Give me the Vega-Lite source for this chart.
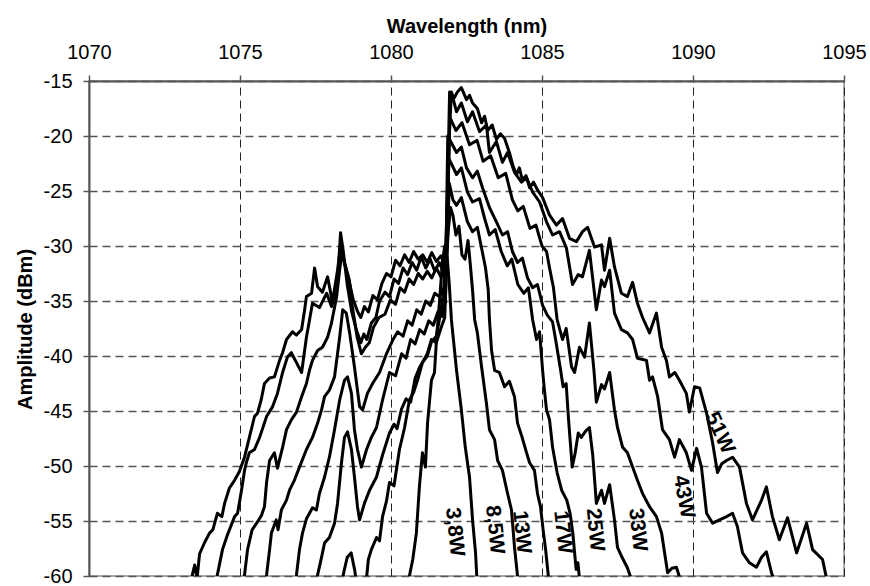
{
  "$schema": "https://vega.github.io/schema/vega-lite/v6.json",
  "width": 755,
  "height": 495,
  "autosize": {"type": "none"},
  "padding": {"left": 89, "top": 81, "right": 26, "bottom": 10},
  "background": "white",
  "config": {"view": {"stroke": "#8c8c8c", "strokeWidth": 1.5}, "font": "Liberation Sans"},
  "datasets": {
    "labels": [
      {"label": "3,8W", "x": 1082.10, "y": -56.0},
      {"label": "8,5W", "x": 1083.43, "y": -55.8},
      {"label": "13W", "x": 1084.32, "y": -56.0},
      {"label": "17W", "x": 1085.68, "y": -56.0},
      {"label": "25W", "x": 1086.75, "y": -55.8},
      {"label": "33W", "x": 1088.16, "y": -55.8},
      {"label": "43W", "x": 1089.69, "y": -52.8},
      {"label": "51W", "x": 1090.88, "y": -47.0}
    ],
    "curves": [
      {"s":"51W","x":1073.25,"y":-62},{"s":"51W","x":1073.43,"y":-59.8},{"s":"51W","x":1073.5,"y":-59.0},{"s":"51W","x":1073.58,"y":-60.2},{"s":"51W","x":1073.66,"y":-58.0},{"s":"51W","x":1073.82,"y":-57.0},{"s":"51W","x":1073.99,"y":-56.1},{"s":"51W","x":1074.1,"y":-55.8},{"s":"51W","x":1074.25,"y":-54.3},{"s":"51W","x":1074.4,"y":-54.6},{"s":"51W","x":1074.49,"y":-53.4},{"s":"51W","x":1074.65,"y":-52.0},{"s":"51W","x":1074.82,"y":-51.3},{"s":"51W","x":1074.98,"y":-50.5},{"s":"51W","x":1075.15,"y":-49.2},{"s":"51W","x":1075.31,"y":-47.4},{"s":"51W","x":1075.48,"y":-45.5},{"s":"51W","x":1075.58,"y":-45.2},{"s":"51W","x":1075.7,"y":-44.0},{"s":"51W","x":1075.81,"y":-42.5},{"s":"51W","x":1075.98,"y":-42.0},{"s":"51W","x":1076.14,"y":-41.9},{"s":"51W","x":1076.31,"y":-40.4},{"s":"51W","x":1076.41,"y":-39.7},{"s":"51W","x":1076.54,"y":-38.5},{"s":"51W","x":1076.74,"y":-37.8},{"s":"51W","x":1076.87,"y":-38.1},{"s":"51W","x":1077.04,"y":-37.6},{"s":"51W","x":1077.14,"y":-35.8},{"s":"51W","x":1077.2,"y":-34.6},{"s":"51W","x":1077.37,"y":-34.3},{"s":"51W","x":1077.47,"y":-32.0},{"s":"51W","x":1077.57,"y":-33.7},{"s":"51W","x":1077.73,"y":-34.2},{"s":"51W","x":1077.9,"y":-32.8},{"s":"51W","x":1078.06,"y":-35.1},{"s":"51W","x":1078.23,"y":-32.2},{"s":"51W","x":1078.33,"y":-30.0},{"s":"51W","x":1078.45,"y":-31.5},{"s":"51W","x":1078.6,"y":-33.0},{"s":"51W","x":1078.75,"y":-34.9},{"s":"51W","x":1078.9,"y":-36.0},{"s":"51W","x":1079.0,"y":-36.5},{"s":"51W","x":1079.12,"y":-35.5},{"s":"51W","x":1079.25,"y":-36.0},{"s":"51W","x":1079.4,"y":-34.5},{"s":"51W","x":1079.55,"y":-34.9},{"s":"51W","x":1079.7,"y":-33.4},{"s":"51W","x":1079.85,"y":-32.5},{"s":"51W","x":1080.0,"y":-32.8},{"s":"51W","x":1080.15,"y":-31.3},{"s":"51W","x":1080.3,"y":-31.8},{"s":"51W","x":1080.45,"y":-30.8},{"s":"51W","x":1080.6,"y":-31.5},{"s":"51W","x":1080.75,"y":-30.5},{"s":"51W","x":1080.9,"y":-31.2},{"s":"51W","x":1081.05,"y":-30.8},{"s":"51W","x":1081.2,"y":-31.5},{"s":"51W","x":1081.35,"y":-30.6},{"s":"51W","x":1081.5,"y":-31.4},{"s":"51W","x":1081.65,"y":-30.9},{"s":"51W","x":1081.8,"y":-31.8},{"s":"51W","x":1081.88,"y":-24.0},{"s":"51W","x":1081.94,"y":-16.0},{"s":"51W","x":1082.1,"y":-16.5},{"s":"51W","x":1082.2,"y":-16.0},{"s":"51W","x":1082.33,"y":-15.6},{"s":"51W","x":1082.5,"y":-16.7},{"s":"51W","x":1082.6,"y":-16.3},{"s":"51W","x":1082.7,"y":-17.0},{"s":"51W","x":1082.86,"y":-17.5},{"s":"51W","x":1083.0,"y":-18.8},{"s":"51W","x":1083.1,"y":-18.2},{"s":"51W","x":1083.2,"y":-19.5},{"s":"51W","x":1083.35,"y":-19.0},{"s":"51W","x":1083.49,"y":-20.3},{"s":"51W","x":1083.62,"y":-19.8},{"s":"51W","x":1083.76,"y":-20.2},{"s":"51W","x":1083.92,"y":-21.5},{"s":"51W","x":1084.05,"y":-22.8},{"s":"51W","x":1084.16,"y":-23.5},{"s":"51W","x":1084.25,"y":-22.9},{"s":"51W","x":1084.35,"y":-24.0},{"s":"51W","x":1084.47,"y":-23.6},{"s":"51W","x":1084.59,"y":-24.7},{"s":"51W","x":1084.72,"y":-24.2},{"s":"51W","x":1084.85,"y":-24.9},{"s":"51W","x":1085.02,"y":-25.6},{"s":"51W","x":1085.25,"y":-27.2},{"s":"51W","x":1085.48,"y":-28.1},{"s":"51W","x":1085.68,"y":-27.5},{"s":"51W","x":1085.91,"y":-29.3},{"s":"51W","x":1086.14,"y":-29.6},{"s":"51W","x":1086.34,"y":-28.7},{"s":"51W","x":1086.51,"y":-28.3},{"s":"51W","x":1086.74,"y":-30.1},{"s":"51W","x":1086.97,"y":-29.9},{"s":"51W","x":1087.07,"y":-32.2},{"s":"51W","x":1087.24,"y":-29.3},{"s":"51W","x":1087.4,"y":-31.9},{"s":"51W","x":1087.63,"y":-34.3},{"s":"51W","x":1087.83,"y":-34.6},{"s":"51W","x":1088.0,"y":-33.3},{"s":"51W","x":1088.16,"y":-35.2},{"s":"51W","x":1088.33,"y":-36.5},{"s":"51W","x":1088.56,"y":-37.9},{"s":"51W","x":1088.79,"y":-36.1},{"s":"51W","x":1088.96,"y":-39.2},{"s":"51W","x":1089.12,"y":-40.4},{"s":"51W","x":1089.22,"y":-41.9},{"s":"51W","x":1089.4,"y":-41.5},{"s":"51W","x":1089.55,"y":-42.2},{"s":"51W","x":1089.78,"y":-43.4},{"s":"51W","x":1089.88,"y":-45.1},{"s":"51W","x":1090.05,"y":-42.8},{"s":"51W","x":1090.22,"y":-42.9},{"s":"51W","x":1090.45,"y":-45.2},{"s":"51W","x":1090.65,"y":-47.9},{"s":"51W","x":1090.81,"y":-50.6},{"s":"51W","x":1090.95,"y":-49.8},{"s":"51W","x":1091.11,"y":-49.5},{"s":"51W","x":1091.31,"y":-49.2},{"s":"51W","x":1091.54,"y":-50.1},{"s":"51W","x":1091.77,"y":-53.4},{"s":"51W","x":1091.97,"y":-54.9},{"s":"51W","x":1092.27,"y":-53.1},{"s":"51W","x":1092.43,"y":-51.9},{"s":"51W","x":1092.63,"y":-54.6},{"s":"51W","x":1092.86,"y":-56.7},{"s":"51W","x":1093.13,"y":-54.7},{"s":"51W","x":1093.43,"y":-57.9},{"s":"51W","x":1093.76,"y":-55.2},{"s":"51W","x":1093.96,"y":-57.6},{"s":"51W","x":1094.29,"y":-58.5},{"s":"51W","x":1094.42,"y":-60.2},{"s":"51W","x":1094.5,"y":-62},

      {"s":"43W","x":1074.1,"y":-62},{"s":"43W","x":1074.25,"y":-59.9},{"s":"43W","x":1074.42,"y":-57.6},{"s":"43W","x":1074.58,"y":-56.3},{"s":"43W","x":1074.82,"y":-54.6},{"s":"43W","x":1074.92,"y":-54.3},{"s":"43W","x":1075.05,"y":-52.2},{"s":"43W","x":1075.15,"y":-50.4},{"s":"43W","x":1075.21,"y":-49.7},{"s":"43W","x":1075.31,"y":-48.8},{"s":"43W","x":1075.48,"y":-48.5},{"s":"43W","x":1075.65,"y":-47.4},{"s":"43W","x":1075.88,"y":-45.5},{"s":"43W","x":1076.08,"y":-44.6},{"s":"43W","x":1076.24,"y":-43.4},{"s":"43W","x":1076.41,"y":-41.5},{"s":"43W","x":1076.57,"y":-40.1},{"s":"43W","x":1076.7,"y":-39.7},{"s":"43W","x":1076.87,"y":-40.6},{"s":"43W","x":1077.04,"y":-41.5},{"s":"43W","x":1077.2,"y":-38.3},{"s":"43W","x":1077.4,"y":-35.2},{"s":"43W","x":1077.63,"y":-35.6},{"s":"43W","x":1077.87,"y":-34.3},{"s":"43W","x":1078.03,"y":-35.5},{"s":"43W","x":1078.18,"y":-34.3},{"s":"43W","x":1078.26,"y":-31.9},{"s":"43W","x":1078.33,"y":-28.8},{"s":"43W","x":1078.42,"y":-30.5},{"s":"43W","x":1078.55,"y":-33.5},{"s":"43W","x":1078.7,"y":-36.0},{"s":"43W","x":1078.85,"y":-37.6},{"s":"43W","x":1079.0,"y":-38.8},{"s":"43W","x":1079.1,"y":-38.0},{"s":"43W","x":1079.2,"y":-38.5},{"s":"43W","x":1079.35,"y":-37.0},{"s":"43W","x":1079.5,"y":-36.5},{"s":"43W","x":1079.62,"y":-35.0},{"s":"43W","x":1079.8,"y":-34.2},{"s":"43W","x":1079.95,"y":-34.6},{"s":"43W","x":1080.1,"y":-33.0},{"s":"43W","x":1080.25,"y":-33.4},{"s":"43W","x":1080.4,"y":-32.0},{"s":"43W","x":1080.55,"y":-32.6},{"s":"43W","x":1080.7,"y":-31.5},{"s":"43W","x":1080.85,"y":-32.2},{"s":"43W","x":1081.0,"y":-31.0},{"s":"43W","x":1081.15,"y":-32.0},{"s":"43W","x":1081.3,"y":-31.2},{"s":"43W","x":1081.45,"y":-32.3},{"s":"43W","x":1081.6,"y":-31.5},{"s":"43W","x":1081.75,"y":-32.5},{"s":"43W","x":1081.85,"y":-30.0},{"s":"43W","x":1081.93,"y":-20.0},{"s":"43W","x":1082.0,"y":-16.0},{"s":"43W","x":1082.17,"y":-17.8},{"s":"43W","x":1082.33,"y":-17.0},{"s":"43W","x":1082.53,"y":-18.7},{"s":"43W","x":1082.7,"y":-17.8},{"s":"43W","x":1082.93,"y":-19.6},{"s":"43W","x":1083.16,"y":-19.0},{"s":"43W","x":1083.26,"y":-21.5},{"s":"43W","x":1083.49,"y":-20.5},{"s":"43W","x":1083.69,"y":-22.4},{"s":"43W","x":1083.86,"y":-21.5},{"s":"43W","x":1084.09,"y":-23.3},{"s":"43W","x":1084.32,"y":-24.2},{"s":"43W","x":1084.49,"y":-23.8},{"s":"43W","x":1084.69,"y":-25.1},{"s":"43W","x":1084.92,"y":-26.0},{"s":"43W","x":1085.15,"y":-27.8},{"s":"43W","x":1085.35,"y":-29.0},{"s":"43W","x":1085.58,"y":-28.7},{"s":"43W","x":1085.81,"y":-30.2},{"s":"43W","x":1086.01,"y":-33.5},{"s":"43W","x":1086.2,"y":-32.6},{"s":"43W","x":1086.34,"y":-32.8},{"s":"43W","x":1086.57,"y":-30.4},{"s":"43W","x":1086.8,"y":-35.8},{"s":"43W","x":1086.97,"y":-33.1},{"s":"43W","x":1087.07,"y":-33.7},{"s":"43W","x":1087.24,"y":-32.2},{"s":"43W","x":1087.4,"y":-36.1},{"s":"43W","x":1087.63,"y":-37.6},{"s":"43W","x":1087.83,"y":-37.9},{"s":"43W","x":1088.0,"y":-38.5},{"s":"43W","x":1088.16,"y":-40.2},{"s":"43W","x":1088.46,"y":-40.4},{"s":"43W","x":1088.56,"y":-42.2},{"s":"43W","x":1088.66,"y":-41.9},{"s":"43W","x":1088.83,"y":-43.7},{"s":"43W","x":1088.99,"y":-46.7},{"s":"43W","x":1089.22,"y":-47.6},{"s":"43W","x":1089.39,"y":-49.2},{"s":"43W","x":1089.55,"y":-47.6},{"s":"43W","x":1089.78,"y":-48.8},{"s":"43W","x":1089.95,"y":-50.4},{"s":"43W","x":1090.12,"y":-48.4},{"s":"43W","x":1090.28,"y":-50.1},{"s":"43W","x":1090.45,"y":-54.3},{"s":"43W","x":1090.65,"y":-55.2},{"s":"43W","x":1090.88,"y":-54.9},{"s":"43W","x":1091.11,"y":-54.6},{"s":"43W","x":1091.31,"y":-54.3},{"s":"43W","x":1091.47,"y":-55.5},{"s":"43W","x":1091.64,"y":-57.9},{"s":"43W","x":1091.87,"y":-58.8},{"s":"43W","x":1092.1,"y":-59.2},{"s":"43W","x":1092.27,"y":-58.3},{"s":"43W","x":1092.43,"y":-57.8},{"s":"43W","x":1092.6,"y":-59.7},{"s":"43W","x":1092.7,"y":-60.5},{"s":"43W","x":1092.8,"y":-62},

      {"s":"33W","x":1074.95,"y":-62},{"s":"33W","x":1075.15,"y":-59.9},{"s":"33W","x":1075.25,"y":-57.6},{"s":"33W","x":1075.4,"y":-55.8},{"s":"33W","x":1075.55,"y":-55.2},{"s":"33W","x":1075.71,"y":-54.5},{"s":"33W","x":1075.81,"y":-53.7},{"s":"33W","x":1075.88,"y":-51.5},{"s":"33W","x":1075.98,"y":-49.5},{"s":"33W","x":1076.14,"y":-48.8},{"s":"33W","x":1076.24,"y":-50.2},{"s":"33W","x":1076.41,"y":-48.3},{"s":"33W","x":1076.54,"y":-46.7},{"s":"33W","x":1076.7,"y":-45.8},{"s":"33W","x":1076.87,"y":-45.1},{"s":"33W","x":1077.04,"y":-43.7},{"s":"33W","x":1077.2,"y":-42.5},{"s":"33W","x":1077.3,"y":-41.3},{"s":"33W","x":1077.4,"y":-40.4},{"s":"33W","x":1077.57,"y":-39.5},{"s":"33W","x":1077.73,"y":-39.2},{"s":"33W","x":1077.9,"y":-38.3},{"s":"33W","x":1078.03,"y":-37.0},{"s":"33W","x":1078.2,"y":-34.6},{"s":"33W","x":1078.3,"y":-32.2},{"s":"33W","x":1078.38,"y":-30.5},{"s":"33W","x":1078.46,"y":-31.5},{"s":"33W","x":1078.62,"y":-33.1},{"s":"33W","x":1078.72,"y":-35.5},{"s":"33W","x":1078.88,"y":-38.3},{"s":"33W","x":1079.02,"y":-39.8},{"s":"33W","x":1079.15,"y":-39.2},{"s":"33W","x":1079.28,"y":-38.8},{"s":"33W","x":1079.42,"y":-37.4},{"s":"33W","x":1079.6,"y":-36.5},{"s":"33W","x":1079.8,"y":-36.2},{"s":"33W","x":1079.98,"y":-34.9},{"s":"33W","x":1080.15,"y":-35.3},{"s":"33W","x":1080.3,"y":-33.8},{"s":"33W","x":1080.45,"y":-34.2},{"s":"33W","x":1080.6,"y":-33.0},{"s":"33W","x":1080.75,"y":-33.5},{"s":"33W","x":1080.9,"y":-32.5},{"s":"33W","x":1081.05,"y":-33.0},{"s":"33W","x":1081.2,"y":-32.3},{"s":"33W","x":1081.35,"y":-32.9},{"s":"33W","x":1081.5,"y":-32.0},{"s":"33W","x":1081.65,"y":-32.8},{"s":"33W","x":1081.8,"y":-32.4},{"s":"33W","x":1081.88,"y":-26.0},{"s":"33W","x":1081.95,"y":-18.3},{"s":"33W","x":1082.15,"y":-19.5},{"s":"33W","x":1082.35,"y":-18.8},{"s":"33W","x":1082.6,"y":-20.8},{"s":"33W","x":1082.85,"y":-20.4},{"s":"33W","x":1083.05,"y":-22.3},{"s":"33W","x":1083.3,"y":-21.8},{"s":"33W","x":1083.55,"y":-23.8},{"s":"33W","x":1083.8,"y":-23.4},{"s":"33W","x":1084.02,"y":-25.8},{"s":"33W","x":1084.2,"y":-26.8},{"s":"33W","x":1084.38,"y":-26.4},{"s":"33W","x":1084.6,"y":-28.4},{"s":"33W","x":1084.8,"y":-28.1},{"s":"33W","x":1085.0,"y":-30.0},{"s":"33W","x":1085.15,"y":-30.5},{"s":"33W","x":1085.25,"y":-32.0},{"s":"33W","x":1085.38,"y":-33.8},{"s":"33W","x":1085.5,"y":-36.7},{"s":"33W","x":1085.68,"y":-38.5},{"s":"33W","x":1085.8,"y":-37.5},{"s":"33W","x":1085.98,"y":-41.0},{"s":"33W","x":1086.08,"y":-41.5},{"s":"33W","x":1086.24,"y":-39.2},{"s":"33W","x":1086.41,"y":-40.1},{"s":"33W","x":1086.57,"y":-37.0},{"s":"33W","x":1086.72,"y":-41.3},{"s":"33W","x":1086.8,"y":-44.2},{"s":"33W","x":1086.97,"y":-42.6},{"s":"33W","x":1087.07,"y":-43.0},{"s":"33W","x":1087.24,"y":-41.5},{"s":"33W","x":1087.4,"y":-44.9},{"s":"33W","x":1087.5,"y":-46.5},{"s":"33W","x":1087.67,"y":-48.3},{"s":"33W","x":1087.83,"y":-48.8},{"s":"33W","x":1088.0,"y":-50.1},{"s":"33W","x":1088.16,"y":-51.3},{"s":"33W","x":1088.33,"y":-52.5},{"s":"33W","x":1088.56,"y":-53.7},{"s":"33W","x":1088.79,"y":-54.6},{"s":"33W","x":1088.96,"y":-56.1},{"s":"33W","x":1089.06,"y":-57.9},{"s":"33W","x":1089.16,"y":-59.7},{"s":"33W","x":1089.3,"y":-59.3},{"s":"33W","x":1089.45,"y":-59.2},{"s":"33W","x":1089.6,"y":-60.5},{"s":"33W","x":1089.7,"y":-62},

      {"s":"25W","x":1075.75,"y":-62},{"s":"25W","x":1075.88,"y":-59.9},{"s":"25W","x":1075.98,"y":-57.6},{"s":"25W","x":1076.04,"y":-56.1},{"s":"25W","x":1076.2,"y":-54.9},{"s":"25W","x":1076.26,"y":-55.8},{"s":"25W","x":1076.37,"y":-54.0},{"s":"25W","x":1076.54,"y":-53.1},{"s":"25W","x":1076.64,"y":-52.2},{"s":"25W","x":1076.8,"y":-51.3},{"s":"25W","x":1076.97,"y":-50.1},{"s":"25W","x":1077.2,"y":-48.5},{"s":"25W","x":1077.4,"y":-47.4},{"s":"25W","x":1077.57,"y":-46.1},{"s":"25W","x":1077.7,"y":-44.9},{"s":"25W","x":1077.8,"y":-43.7},{"s":"25W","x":1077.96,"y":-43.1},{"s":"25W","x":1078.13,"y":-41.9},{"s":"25W","x":1078.3,"y":-38.3},{"s":"25W","x":1078.4,"y":-35.8},{"s":"25W","x":1078.52,"y":-36.1},{"s":"25W","x":1078.63,"y":-37.9},{"s":"25W","x":1078.79,"y":-41.0},{"s":"25W","x":1078.96,"y":-44.6},{"s":"25W","x":1079.06,"y":-44.9},{"s":"25W","x":1079.22,"y":-43.4},{"s":"25W","x":1079.39,"y":-42.5},{"s":"25W","x":1079.62,"y":-41.5},{"s":"25W","x":1079.85,"y":-39.8},{"s":"25W","x":1080.05,"y":-38.6},{"s":"25W","x":1080.22,"y":-37.8},{"s":"25W","x":1080.4,"y":-38.2},{"s":"25W","x":1080.55,"y":-36.8},{"s":"25W","x":1080.7,"y":-37.2},{"s":"25W","x":1080.85,"y":-35.8},{"s":"25W","x":1081.0,"y":-36.2},{"s":"25W","x":1081.15,"y":-35.0},{"s":"25W","x":1081.3,"y":-35.4},{"s":"25W","x":1081.45,"y":-34.3},{"s":"25W","x":1081.6,"y":-34.6},{"s":"25W","x":1081.75,"y":-33.8},{"s":"25W","x":1081.83,"y":-29.0},{"s":"25W","x":1081.88,"y":-20.0},{"s":"25W","x":1082.17,"y":-21.5},{"s":"25W","x":1082.33,"y":-21.0},{"s":"25W","x":1082.5,"y":-22.9},{"s":"25W","x":1082.7,"y":-23.8},{"s":"25W","x":1082.86,"y":-23.2},{"s":"25W","x":1083.03,"y":-24.7},{"s":"25W","x":1083.26,"y":-26.5},{"s":"25W","x":1083.49,"y":-27.8},{"s":"25W","x":1083.69,"y":-29.0},{"s":"25W","x":1083.86,"y":-28.7},{"s":"25W","x":1084.02,"y":-30.5},{"s":"25W","x":1084.19,"y":-31.5},{"s":"25W","x":1084.35,"y":-31.1},{"s":"25W","x":1084.52,"y":-32.9},{"s":"25W","x":1084.69,"y":-33.8},{"s":"25W","x":1084.85,"y":-33.5},{"s":"25W","x":1085.02,"y":-35.4},{"s":"25W","x":1085.18,"y":-36.3},{"s":"25W","x":1085.35,"y":-36.9},{"s":"25W","x":1085.45,"y":-38.5},{"s":"25W","x":1085.6,"y":-41.0},{"s":"25W","x":1085.7,"y":-42.8},{"s":"25W","x":1085.8,"y":-42.5},{"s":"25W","x":1085.88,"y":-45.8},{"s":"25W","x":1085.95,"y":-48.3},{"s":"25W","x":1086.0,"y":-50.1},{"s":"25W","x":1086.1,"y":-48.8},{"s":"25W","x":1086.2,"y":-47.0},{"s":"25W","x":1086.3,"y":-47.4},{"s":"25W","x":1086.45,"y":-46.8},{"s":"25W","x":1086.57,"y":-46.5},{"s":"25W","x":1086.68,"y":-49.0},{"s":"25W","x":1086.8,"y":-53.4},{"s":"25W","x":1086.97,"y":-52.2},{"s":"25W","x":1087.07,"y":-53.4},{"s":"25W","x":1087.24,"y":-51.7},{"s":"25W","x":1087.4,"y":-54.9},{"s":"25W","x":1087.5,"y":-57.4},{"s":"25W","x":1087.65,"y":-58.3},{"s":"25W","x":1087.82,"y":-59.2},{"s":"25W","x":1087.96,"y":-60.3},{"s":"25W","x":1088.1,"y":-62},

      {"s":"17W","x":1076.7,"y":-62},{"s":"17W","x":1076.87,"y":-59.9},{"s":"17W","x":1076.97,"y":-57.6},{"s":"17W","x":1077.07,"y":-56.1},{"s":"17W","x":1077.2,"y":-54.8},{"s":"17W","x":1077.3,"y":-54.3},{"s":"17W","x":1077.4,"y":-53.8},{"s":"17W","x":1077.53,"y":-54.0},{"s":"17W","x":1077.63,"y":-52.5},{"s":"17W","x":1077.8,"y":-51.0},{"s":"17W","x":1077.96,"y":-49.2},{"s":"17W","x":1078.13,"y":-46.7},{"s":"17W","x":1078.3,"y":-44.0},{"s":"17W","x":1078.46,"y":-42.2},{"s":"17W","x":1078.56,"y":-41.9},{"s":"17W","x":1078.69,"y":-43.4},{"s":"17W","x":1078.79,"y":-46.7},{"s":"17W","x":1078.89,"y":-48.5},{"s":"17W","x":1079.02,"y":-50.1},{"s":"17W","x":1079.19,"y":-48.5},{"s":"17W","x":1079.35,"y":-47.4},{"s":"17W","x":1079.52,"y":-46.5},{"s":"17W","x":1079.72,"y":-44.0},{"s":"17W","x":1079.95,"y":-41.5},{"s":"17W","x":1080.15,"y":-41.8},{"s":"17W","x":1080.35,"y":-39.8},{"s":"17W","x":1080.5,"y":-40.2},{"s":"17W","x":1080.65,"y":-38.5},{"s":"17W","x":1080.8,"y":-38.9},{"s":"17W","x":1080.95,"y":-37.6},{"s":"17W","x":1081.1,"y":-38.0},{"s":"17W","x":1081.25,"y":-36.8},{"s":"17W","x":1081.4,"y":-37.2},{"s":"17W","x":1081.55,"y":-36.0},{"s":"17W","x":1081.7,"y":-36.4},{"s":"17W","x":1081.8,"y":-35.0},{"s":"17W","x":1081.86,"y":-29.0},{"s":"17W","x":1081.9,"y":-22.0},{"s":"17W","x":1082.05,"y":-22.8},{"s":"17W","x":1082.17,"y":-23.5},{"s":"17W","x":1082.33,"y":-22.9},{"s":"17W","x":1082.53,"y":-25.1},{"s":"17W","x":1082.7,"y":-26.0},{"s":"17W","x":1082.93,"y":-25.7},{"s":"17W","x":1083.1,"y":-27.5},{"s":"17W","x":1083.26,"y":-29.0},{"s":"17W","x":1083.45,"y":-28.5},{"s":"17W","x":1083.65,"y":-30.5},{"s":"17W","x":1083.85,"y":-31.8},{"s":"17W","x":1084.0,"y":-31.2},{"s":"17W","x":1084.2,"y":-33.5},{"s":"17W","x":1084.4,"y":-34.3},{"s":"17W","x":1084.55,"y":-33.8},{"s":"17W","x":1084.69,"y":-36.7},{"s":"17W","x":1084.82,"y":-38.5},{"s":"17W","x":1084.92,"y":-37.8},{"s":"17W","x":1085.02,"y":-41.3},{"s":"17W","x":1085.08,"y":-43.1},{"s":"17W","x":1085.15,"y":-44.9},{"s":"17W","x":1085.25,"y":-45.8},{"s":"17W","x":1085.35,"y":-48.3},{"s":"17W","x":1085.5,"y":-50.6},{"s":"17W","x":1085.65,"y":-52.2},{"s":"17W","x":1085.82,"y":-53.1},{"s":"17W","x":1085.93,"y":-54.3},{"s":"17W","x":1086.02,"y":-56.1},{"s":"17W","x":1086.08,"y":-57.9},{"s":"17W","x":1086.13,"y":-59.4},{"s":"17W","x":1086.19,"y":-58.8},{"s":"17W","x":1086.25,"y":-60.5},{"s":"17W","x":1086.32,"y":-62},

      {"s":"13W","x":1077.4,"y":-62},{"s":"13W","x":1077.57,"y":-59.9},{"s":"13W","x":1077.7,"y":-58.3},{"s":"13W","x":1077.8,"y":-57.0},{"s":"13W","x":1077.96,"y":-56.5},{"s":"13W","x":1078.13,"y":-55.2},{"s":"13W","x":1078.23,"y":-53.4},{"s":"13W","x":1078.36,"y":-49.7},{"s":"13W","x":1078.46,"y":-47.4},{"s":"13W","x":1078.56,"y":-46.9},{"s":"13W","x":1078.69,"y":-48.5},{"s":"13W","x":1078.79,"y":-51.0},{"s":"13W","x":1078.89,"y":-53.7},{"s":"13W","x":1078.96,"y":-54.9},{"s":"13W","x":1079.12,"y":-53.4},{"s":"13W","x":1079.29,"y":-52.2},{"s":"13W","x":1079.52,"y":-51.0},{"s":"13W","x":1079.72,"y":-49.0},{"s":"13W","x":1079.95,"y":-47.0},{"s":"13W","x":1080.1,"y":-46.2},{"s":"13W","x":1080.2,"y":-46.6},{"s":"13W","x":1080.35,"y":-44.8},{"s":"13W","x":1080.5,"y":-43.9},{"s":"13W","x":1080.65,"y":-44.2},{"s":"13W","x":1080.8,"y":-42.0},{"s":"13W","x":1080.95,"y":-41.0},{"s":"13W","x":1081.04,"y":-40.6},{"s":"13W","x":1081.2,"y":-39.8},{"s":"13W","x":1081.34,"y":-38.5},{"s":"13W","x":1081.5,"y":-38.8},{"s":"13W","x":1081.65,"y":-37.5},{"s":"13W","x":1081.78,"y":-36.5},{"s":"13W","x":1081.86,"y":-30.0},{"s":"13W","x":1081.93,"y":-24.3},{"s":"13W","x":1082.05,"y":-25.8},{"s":"13W","x":1082.17,"y":-26.3},{"s":"13W","x":1082.33,"y":-25.6},{"s":"13W","x":1082.53,"y":-27.8},{"s":"13W","x":1082.7,"y":-28.7},{"s":"13W","x":1082.86,"y":-28.3},{"s":"13W","x":1083.0,"y":-30.2},{"s":"13W","x":1083.13,"y":-32.0},{"s":"13W","x":1083.22,"y":-34.0},{"s":"13W","x":1083.26,"y":-36.7},{"s":"13W","x":1083.33,"y":-39.5},{"s":"13W","x":1083.43,"y":-41.3},{"s":"13W","x":1083.59,"y":-41.5},{"s":"13W","x":1083.76,"y":-42.8},{"s":"13W","x":1083.92,"y":-42.3},{"s":"13W","x":1084.09,"y":-43.7},{"s":"13W","x":1084.19,"y":-46.1},{"s":"13W","x":1084.32,"y":-47.2},{"s":"13W","x":1084.49,"y":-48.8},{"s":"13W","x":1084.59,"y":-49.7},{"s":"13W","x":1084.75,"y":-50.4},{"s":"13W","x":1084.85,"y":-52.5},{"s":"13W","x":1084.95,"y":-53.7},{"s":"13W","x":1085.05,"y":-56.1},{"s":"13W","x":1085.12,"y":-57.6},{"s":"13W","x":1085.21,"y":-60.0},{"s":"13W","x":1085.3,"y":-62},

      {"s":"8,5W","x":1078.3,"y":-61.5},{"s":"8,5W","x":1078.45,"y":-59.5},{"s":"8,5W","x":1078.55,"y":-58.3},{"s":"8,5W","x":1078.68,"y":-57.9},{"s":"8,5W","x":1078.8,"y":-59.5},{"s":"8,5W","x":1078.9,"y":-61.5},{"s":"8,5W","x":1079.05,"y":-63},{"s":"8,5W","x":1079.19,"y":-60.2},{"s":"8,5W","x":1079.25,"y":-58.5},{"s":"8,5W","x":1079.35,"y":-57.6},{"s":"8,5W","x":1079.52,"y":-56.5},{"s":"8,5W","x":1079.62,"y":-56.8},{"s":"8,5W","x":1079.72,"y":-54.6},{"s":"8,5W","x":1079.85,"y":-53.2},{"s":"8,5W","x":1079.95,"y":-51.5},{"s":"8,5W","x":1080.1,"y":-51.8},{"s":"8,5W","x":1080.28,"y":-48.5},{"s":"8,5W","x":1080.45,"y":-46.5},{"s":"8,5W","x":1080.61,"y":-44.0},{"s":"8,5W","x":1080.75,"y":-43.3},{"s":"8,5W","x":1080.9,"y":-42.0},{"s":"8,5W","x":1081.04,"y":-40.6},{"s":"8,5W","x":1081.2,"y":-40.0},{"s":"8,5W","x":1081.34,"y":-38.7},{"s":"8,5W","x":1081.5,"y":-38.2},{"s":"8,5W","x":1081.65,"y":-36.0},{"s":"8,5W","x":1081.8,"y":-33.0},{"s":"8,5W","x":1081.9,"y":-28.5},{"s":"8,5W","x":1081.97,"y":-26.5},{"s":"8,5W","x":1082.05,"y":-27.2},{"s":"8,5W","x":1082.15,"y":-29.0},{"s":"8,5W","x":1082.25,"y":-28.2},{"s":"8,5W","x":1082.35,"y":-30.8},{"s":"8,5W","x":1082.45,"y":-31.2},{"s":"8,5W","x":1082.55,"y":-29.5},{"s":"8,5W","x":1082.62,"y":-31.5},{"s":"8,5W","x":1082.7,"y":-34.0},{"s":"8,5W","x":1082.77,"y":-36.7},{"s":"8,5W","x":1082.86,"y":-37.9},{"s":"8,5W","x":1083.0,"y":-41.0},{"s":"8,5W","x":1083.16,"y":-44.3},{"s":"8,5W","x":1083.26,"y":-46.7},{"s":"8,5W","x":1083.43,"y":-47.6},{"s":"8,5W","x":1083.53,"y":-49.5},{"s":"8,5W","x":1083.69,"y":-50.4},{"s":"8,5W","x":1083.86,"y":-52.5},{"s":"8,5W","x":1083.99,"y":-54.0},{"s":"8,5W","x":1084.09,"y":-57.4},{"s":"8,5W","x":1084.19,"y":-60.0},{"s":"8,5W","x":1084.3,"y":-62},

      {"s":"3,8W","x":1080.5,"y":-62},{"s":"3,8W","x":1080.61,"y":-60.0},{"s":"3,8W","x":1080.72,"y":-58.5},{"s":"3,8W","x":1080.84,"y":-56.1},{"s":"3,8W","x":1080.94,"y":-51.9},{"s":"3,8W","x":1081.04,"y":-48.8},{"s":"3,8W","x":1081.14,"y":-50.1},{"s":"3,8W","x":1081.21,"y":-46.1},{"s":"3,8W","x":1081.34,"y":-42.2},{"s":"3,8W","x":1081.44,"y":-41.5},{"s":"3,8W","x":1081.51,"y":-38.3},{"s":"3,8W","x":1081.61,"y":-34.9},{"s":"3,8W","x":1081.7,"y":-31.5},{"s":"3,8W","x":1081.78,"y":-30.0},{"s":"3,8W","x":1081.86,"y":-31.0},{"s":"3,8W","x":1081.93,"y":-33.5},{"s":"3,8W","x":1082.0,"y":-36.7},{"s":"3,8W","x":1082.17,"y":-41.3},{"s":"3,8W","x":1082.33,"y":-44.9},{"s":"3,8W","x":1082.46,"y":-48.3},{"s":"3,8W","x":1082.6,"y":-51.0},{"s":"3,8W","x":1082.7,"y":-54.9},{"s":"3,8W","x":1082.8,"y":-57.9},{"s":"3,8W","x":1082.84,"y":-60.0},{"s":"3,8W","x":1082.9,"y":-62}
    ]
  },
  "encoding": {
    "x": {
      "field": "x", "type": "quantitative",
      "scale": {"domain": [1070, 1095], "nice": false, "zero": false},
      "axis": {
        "orient": "top", "title": "Wavelength (nm)",
        "values": [1070, 1075, 1080, 1085, 1090, 1095],
        "labelExpr": "'' + datum.value",
        "grid": true, "gridDash": [8, 5], "gridColor": "#222222", "gridWidth": 1,
        "tickSize": 6, "tickColor": "#555555", "tickWidth": 1.5,
        "domainColor": "#555555", "domainWidth": 2,
        "labelFontSize": 20, "labelColor": "black", "labelPadding": 13, "labelFlush": false,
        "titleFontSize": 20, "titleFontWeight": "bold", "titleColor": "black",
        "titleBaseline": "alphabetic", "titleY": -49
      }
    },
    "y": {
      "field": "y", "type": "quantitative",
      "scale": {"domain": [-60, -15], "nice": false, "zero": false},
      "axis": {
        "title": "Amplitude (dBm)",
        "values": [-60, -55, -50, -45, -40, -35, -30, -25, -20, -15],
        "labelExpr": "'' + datum.value",
        "grid": true, "gridDash": [8, 5], "gridColor": "#555555", "gridWidth": 1.3,
        "tickSize": 6, "tickColor": "#555555", "tickWidth": 1.5,
        "domainColor": "#555555", "domainWidth": 2,
        "labelFontSize": 20, "labelColor": "black", "labelPadding": 11, "labelFlush": false,
        "titleFontSize": 20, "titleFontWeight": "bold", "titleColor": "black",
        "titleBaseline": "alphabetic", "titleX": -58, "titleY": 248
      }
    }
  },
  "layer": [
    {
      "data": {"name": "curves"},
      "mark": {"type": "line", "color": "black", "strokeWidth": 3, "clip": true, "strokeJoin": "round"},
      "encoding": {"detail": {"field": "s", "type": "nominal"}}
    },
    {
      "data": {"name": "labels"},
      "transform": [{"filter": {"field": "label", "oneOf": ["3,8W", "8,5W", "13W", "17W", "25W", "33W"]}}],
      "mark": {"type": "text", "angle": 84, "fontSize": 21, "fontWeight": "bold", "color": "black", "align": "center", "baseline": "middle"},
      "encoding": {"text": {"field": "label", "type": "nominal"}}
    },
    {
      "data": {"name": "labels"},
      "transform": [{"filter": {"field": "label", "equal": "43W"}}],
      "mark": {"type": "text", "angle": 79, "fontSize": 21, "fontWeight": "bold", "color": "black", "align": "center", "baseline": "middle"},
      "encoding": {"text": {"field": "label", "type": "nominal"}}
    },
    {
      "data": {"name": "labels"},
      "transform": [{"filter": {"field": "label", "equal": "51W"}}],
      "mark": {"type": "text", "angle": 65, "fontSize": 21, "fontWeight": "bold", "color": "black", "align": "center", "baseline": "middle"},
      "encoding": {"text": {"field": "label", "type": "nominal"}}
    }
  ]
}
